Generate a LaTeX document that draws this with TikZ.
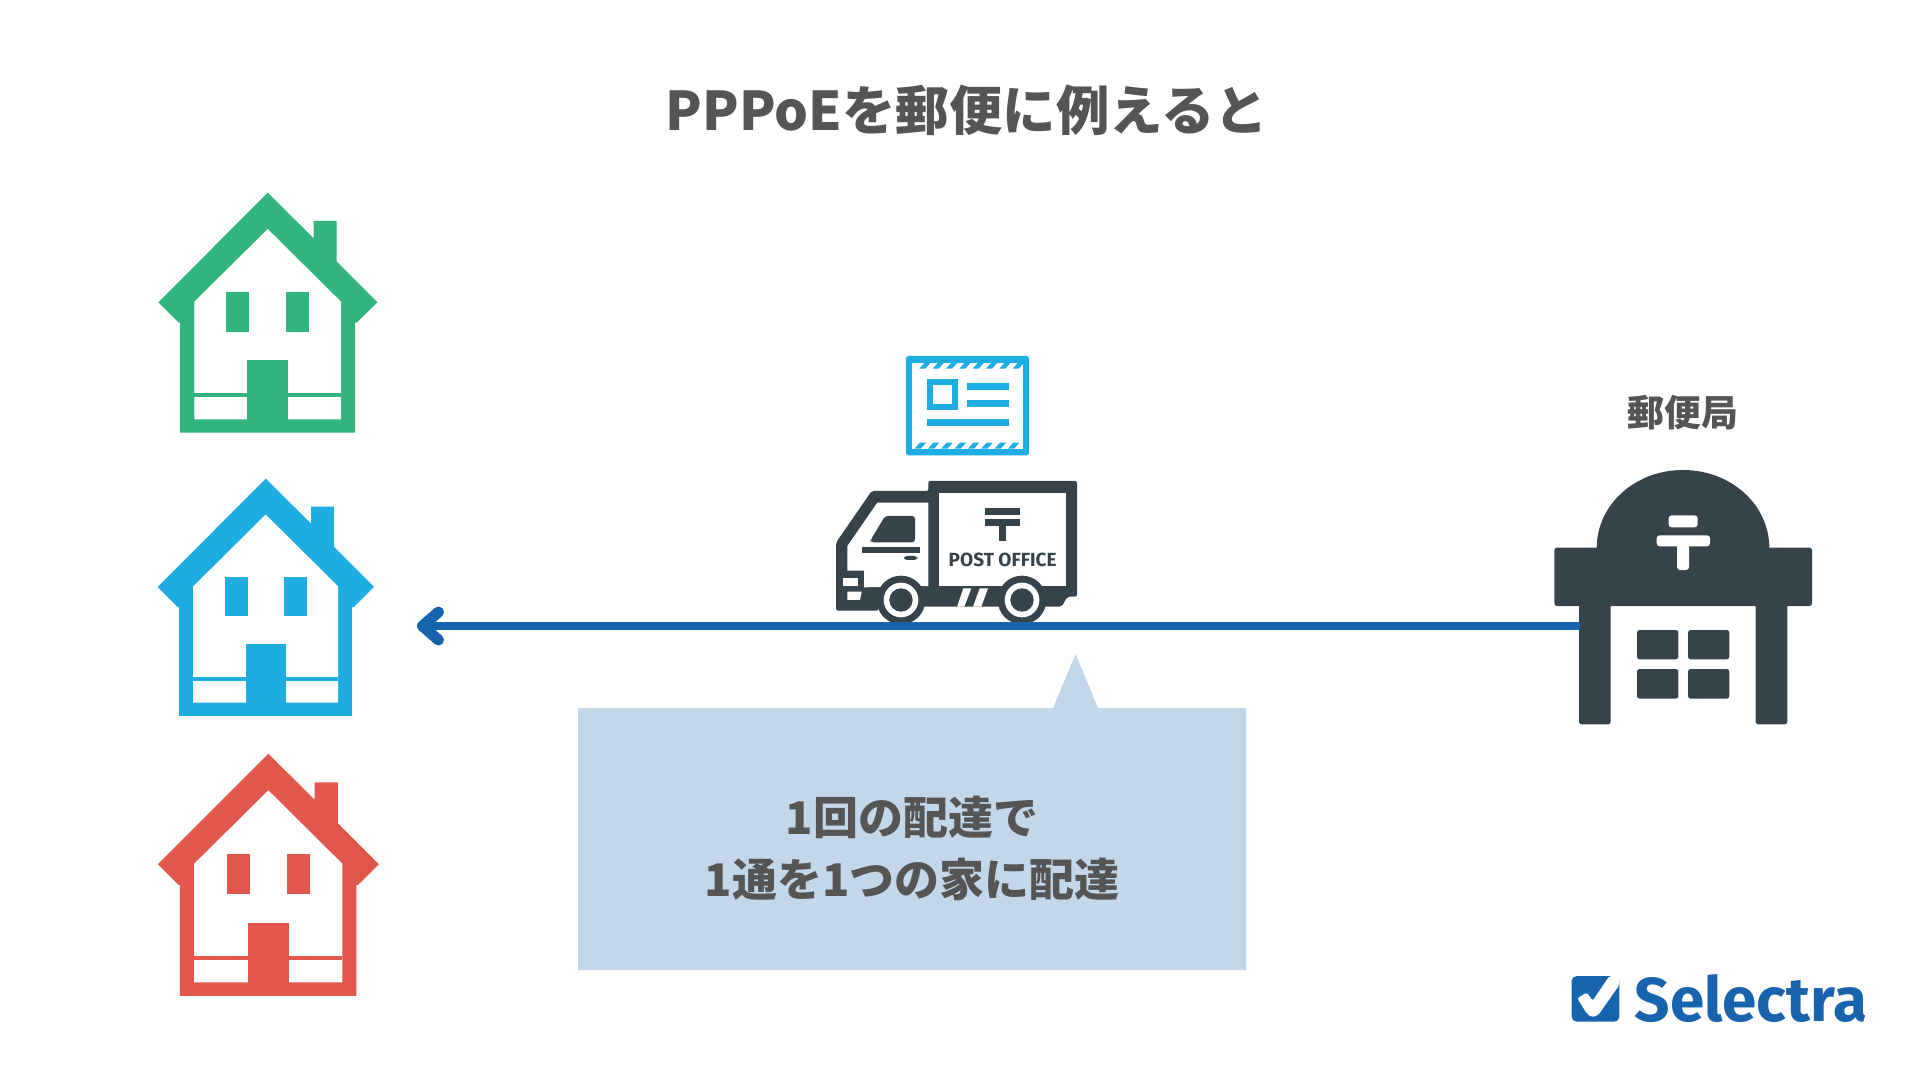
\documentclass[tikz,border=0pt]{standalone}
\usepackage{fontspec}
\usepackage{xcolor}
\usetikzlibrary{positioning, arrows.meta}
\newfontfamily\jpfont{Noto Sans CJK JP}
\newfontfamily\logofont{Fira Sans}
\definecolor{greenhouse}{HTML}{31B47F}
\definecolor{bluehouse}{HTML}{1DADE2}
\definecolor{redhouse}{HTML}{E2574C}
\definecolor{darkicon}{HTML}{37434A}
\definecolor{lineblue}{HTML}{1763AE}
\definecolor{calloutblue}{HTML}{C3D7EB}
\definecolor{textgrey}{HTML}{555555}
\tikzset{
    titletext/.style={font=\jpfont\bfseries\fontsize{26.7}{32}\selectfont, text=textgrey, inner sep=0pt},
    labeltext/.style={font=\jpfont\bfseries\fontsize{18.4}{22}\selectfont, text=textgrey, inner sep=0pt},
    callouttext/.style={font=\jpfont\bfseries\fontsize{22.5}{31}\selectfont, text=textgrey, inner sep=0pt, align=center},
    truckbar/.style={fill=darkicon},
    iconwhite/.style={fill=white},
    mailline/.style={draw=lineblue, line width=4pt},
    pics/house/.style={code={
        \fill[#1] (0,0) -- (46,45.6) -- (46,28.3) -- (69,28.3) -- (69,69) -- (109.6,109.6) -- (89,130) -- (87.3,130) -- (87.3,240) -- (-87.7,240) -- (-87.7,130) -- (-89,130) -- (-109.4,109.6) -- cycle;
        \fill[white] (0,36.3) -- (73.3,109) -- (73.3,226.6) -- (-73.4,226.6) -- (-73.4,109) -- cycle;
        \fill[#1] (-41.4,99) rectangle (-18.4,139.3);
        \fill[#1] (18.3,99) rectangle (41.3,139.3);
        \fill[#1] (-20.4,167.3) rectangle (20.3,230);
        \fill[#1] (-73.4,200.6) rectangle (73.3,204.6);
    }}
}
\begin{document}
\begin{tikzpicture}[x=0.5pt, y=-0.5pt]
\useasboundingbox (0,0) rectangle (1920,1080);

% Title
\node[titletext] (title) at (967,110) {PPPoEを郵便に例えると};

% Houses
\pic (housegreen) at (267.7,192.7) {house=greenhouse};
\pic[scale=0.988] (houseblue) at (265.7,478.7) {house=bluehouse};
\pic[scale=1.009] (housered) at (268.3,753.7) {house=redhouse};

% Letter
\begin{scope}[shift={(820,340)}, scale=1/3]
    \fill[bluehouse, rounded corners=1.3pt] (258,48) rectangle (627,346);
    \fill[white] (276,68) rectangle (608,326);
    \foreach \i in {0,...,7} {
        \fill[bluehouse] ({298+40*\i},86) -- ({316+40*\i},86) -- ({332+40*\i},68) -- ({314+40*\i},68) -- cycle;
        \fill[bluehouse] ({284+40*\i},326) -- ({302+40*\i},326) -- ({318+40*\i},308) -- ({300+40*\i},308) -- cycle;
    }
    \fill[bluehouse] (322,118) rectangle (414,210);
    \fill[white] (340,135) rectangle (397,193);
    \fill[bluehouse] (442,128) rectangle (566,149);
    \fill[bluehouse] (442,180) rectangle (566,201);
    \fill[bluehouse] (322,238) rectangle (566,259);
\end{scope}

% Truck
\begin{scope}[shift={(820,340)}, scale=1/3]
    \fill[truckbar, rounded corners=1pt] (48,812) -- (48,608) -- (155,453) -- (325,453) -- (325,423) -- (771,423) -- (771,770) -- (742,770) -- (725,800) -- (175,800) -- (175,812) -- cycle;
    \fill[iconwhite] (82,618) -- (172,488) -- (325,488) -- (325,738) -- (132,742) -- (132,692) -- (82,692) -- cycle;
    \fill[iconwhite] (358,458) rectangle (738,737);
    % cab details
    \fill[truckbar, rounded corners=1.5pt] (152,600) -- (195,528) -- (285,528) -- (285,607) -- (152,607) -- cycle;
    \fill[truckbar] (127,622) rectangle (300,640);
    \fill[truckbar, rounded corners=1.5pt] (252,648) rectangle (292,660);
    \fill[iconwhite] (70,713) rectangle (113,737);
    \fill[iconwhite] (82,755) -- (125,755) -- (120,780) -- (82,780) -- cycle;
    % stripes
    \fill[iconwhite] (430,745) -- (454,745) -- (433,800) -- (411,800) -- cycle;
    \fill[iconwhite] (479,745) -- (504,745) -- (484,800) -- (459,800) -- cycle;
    % post mark
    \fill[truckbar] (495,505) rectangle (600,525);
    \fill[truckbar] (495,538) rectangle (600,558);
    \fill[truckbar] (537,558) rectangle (558,603);
    \node[font=\logofont\bfseries\fontsize{9.5}{11}\selectfont, text=darkicon, inner sep=0pt] (posttext) at (548,660) {POST OFFICE};
    % wheels
    \foreach \wx in {243,606} {
        \fill[darkicon] (\wx,780) circle (73);
        \fill[white] (\wx,780) circle (52);
        \fill[darkicon] (\wx,780) circle (35);
    }
\end{scope}

% Post office
\node[labeltext] (officelabel) at (1683,413) {郵便局};
\begin{scope}[shift={(1530,380)}, scale=1/3]
    \fill[darkicon] (200,505) .. controls (200,373) and (316,270) .. (459,270) .. controls (602,270) and (718,373) .. (718,505) -- cycle;
    \fill[darkicon, rounded corners=1.3pt] (73,503) rectangle (846,678);
    \fill[darkicon, rounded corners=1.3pt] (147,670) rectangle (242,1033);
    \fill[darkicon, rounded corners=1.3pt] (677,670) rectangle (772,1033);
    \fill[darkicon, rounded corners=1.3pt] (321,750) rectangle (445,838);
    \fill[darkicon, rounded corners=1.3pt] (474,750) rectangle (598,838);
    \fill[darkicon, rounded corners=1.3pt] (321,867) rectangle (445,956);
    \fill[darkicon, rounded corners=1.3pt] (474,867) rectangle (598,956);
    \fill[white, rounded corners=1.5pt] (416,406) rectangle (503,442);
    \fill[white, rounded corners=1.5pt] (380,466) rectangle (540,499);
    \fill[white, rounded corners=1.5pt] (441,490) rectangle (477,570);
\end{scope}

% Delivery line
\coordinate (officedoor) at (1580,626);
\coordinate (housedoor) at (417,626);
\draw[mailline, -{Straight Barb[length=8pt, width=14pt, round, line width=5.5pt]}] (officedoor) -- (housedoor);

% Callout
\fill[calloutblue] (578,708) -- (1053,708) -- (1075.6,654) -- (1098,708) -- (1246,708) -- (1246,970) -- (578,970) -- cycle;
\node[callouttext] (callouttext) at (912,848) {1回の配達で\\1通を1つの家に配達};

% Logo
\begin{scope}[shift={(1550,960)}, scale=1/3]
    \fill[lineblue, rounded corners=2.5pt] (65,48) rectangle (208,185);
    \fill[white, rounded corners=1pt] (82,115) -- (110,97) -- (128,122) -- (178,48) -- (208,48) -- (208,75) -- (145,165) -- (125,172) -- (110,160) -- cycle;
    \node[font=\logofont\bfseries\fontsize{31}{34}\selectfont, text=lineblue, inner sep=0pt, anchor=base west] (logotext) at (253,183) {Selectra};
\end{scope}
\end{tikzpicture}
\end{document}
